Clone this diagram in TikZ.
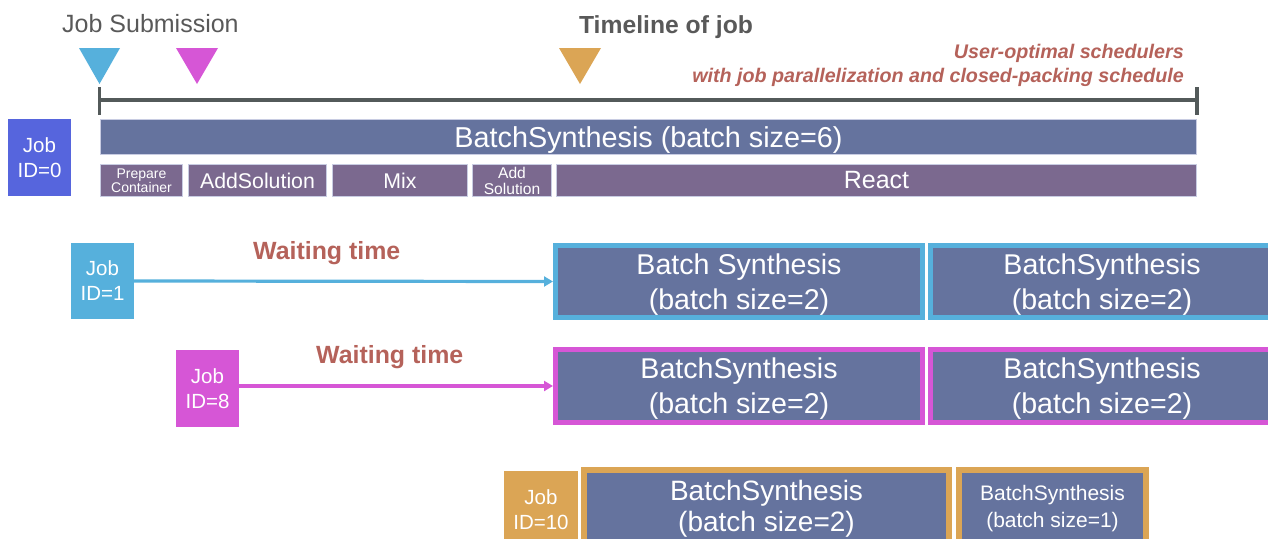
\documentclass[tikz,border=0pt]{standalone}
\usepackage{fontspec}
\setmainfont{Liberation Sans}
\usetikzlibrary{arrows.meta}

\definecolor{jobzero}{RGB}{86,101,221}
\definecolor{jobone}{RGB}{86,176,220}
\definecolor{jobeight}{RGB}{214,86,214}
\definecolor{jobten}{RGB}{219,165,85}
\definecolor{batchfill}{RGB}{101,115,158}
\definecolor{stepfill}{RGB}{123,105,143}
\definecolor{axisgray}{RGB}{83,90,90}
\definecolor{notered}{RGB}{181,98,90}
\definecolor{labelgray}{RGB}{89,89,89}
\definecolor{edgelight}{RGB}{200,204,226}

\newcommand\fsz[2]{\fontsize{#1}{#2}\selectfont}

\begin{document}
\begin{tikzpicture}[x=1pt,y=-1pt,
  jobbox/.style={fill=#1, text=white, inner sep=0pt, minimum width=63pt,
    minimum height=77pt, align=center, font=\fsz{20.5}{25}},
  phase/.style={fill=stepfill, draw=edgelight, line width=1pt, text=white,
    inner sep=0pt, minimum height=32pt, align=center},
  batch/.style={fill=batchfill, draw=#1, line width=5pt, text=white,
    inner sep=0pt, align=center, minimum height=72pt, text depth=0pt,
    font=\fsz{28.6}{35}},
  wait/.style={-{Triangle[length=9pt,width=10pt]}, line width=3.2pt, draw=#1},
  tri/.style={fill=#1, draw=none},
  waitlabel/.style={anchor=base west, text=notered, inner sep=0pt,
    font=\fsz{24.9}{30}\bfseries},
  notelabel/.style={anchor=base east, text=notered, inner sep=0pt,
    font=\fsz{19.7}{24}\bfseries\itshape}
]
\useasboundingbox (0,0) rectangle (1268,538);
\clip (0,0) rectangle (1268,538);

% headings
\node[anchor=base west, inner sep=0pt, text=labelgray, font=\fsz{25}{30}]
  (submit) at (62,32) {Job Submission};
\node[anchor=base, inner sep=0pt, text=labelgray, font=\fsz{24.7}{30}\bfseries]
  (title) at (666,33) {Timeline of job};
\node[notelabel] (note1) at (1184,58) {User-optimal schedulers};
\node[notelabel] (note2) at (1184,82) {with job parallelization and closed-packing schedule};

% submission markers
\fill[tri=jobone]   (79,48)  -- (120,48) -- (99.5,84) -- cycle;
\fill[tri=jobeight] (176,48) -- (218,48) -- (197,84)  -- cycle;
\fill[tri=jobten]   (559,48) -- (601,48) -- (580,84)  -- cycle;

% time axis
\coordinate (tlA) at (99.5,100);
\coordinate (tlB) at (1197,100);
\draw[axisgray, line width=4pt] (tlA) -- (tlB);
\draw[axisgray, line width=3.5pt] ([yshift=13pt]tlA) -- ([yshift=-15pt]tlA);
\draw[axisgray, line width=3.5pt] ([yshift=13pt]tlB) -- ([yshift=-15pt]tlB);

% job 0: one large batch split into its steps
\node[jobbox=jobzero] (job0) at (39.5,157.5) {Job\\ID=0};
\node[fill=batchfill, draw=edgelight, line width=1pt, text=white, inner sep=0pt,
  minimum width=1096pt, minimum height=35pt, text depth=0pt, font=\fsz{28.8}{32}]
  (bigbatch) at (648.5,137) {BatchSynthesis (batch size=6)};
\node[phase, minimum width=82pt, font=\fsz{14}{14}] (prep) at (141.5,180.5) {Prepare\\Container};
\node[phase, minimum width=138pt, font=\fsz{21.3}{24}] (addA) at (257.5,180.5) {AddSolution};
\node[phase, minimum width=135pt, font=\fsz{21.3}{24}] (mix) at (400,180.5) {Mix};
\node[phase, minimum width=79pt, font=\fsz{15.6}{16}] (addB) at (512,180.5) {Add\\Solution};
\node[phase, minimum width=640pt, font=\fsz{25}{28}] (react) at (876.5,180.5) {React};

% job 1
\node[jobbox=jobone, minimum height=76pt] (job1) at (102.5,281) {Job\\ID=1};
\node[batch=jobone, minimum width=367pt] (b1a) at (739,281.5) {Batch Synthesis\\(batch size=2)};
\node[batch=jobone, minimum width=343pt] (b1b) at (1102,281.5) {BatchSynthesis\\(batch size=2)};
\draw[wait=jobone] (job1.east) -- (b1a.west);
\node[waitlabel] (w1) at (253,259) {Waiting time};

% job 8
\node[jobbox=jobeight] (job8) at (207.5,388.5) {Job\\ID=8};
\node[batch=jobeight, minimum height=73pt, minimum width=367pt] (b8a) at (739,386) {BatchSynthesis\\(batch size=2)};
\node[batch=jobeight, minimum height=73pt, minimum width=343pt] (b8b) at (1102,386) {BatchSynthesis\\(batch size=2)};
\draw[wait=jobeight] (job8.east |- b8a.west) -- (b8a.west);
\node[waitlabel] (w8) at (316,363) {Waiting time};

% job 10
\node[jobbox=jobten, minimum width=74pt] (job10) at (541,509.5) {Job\\ID=10};
\node[batch=jobten, line width=6pt, minimum height=72pt, minimum width=365pt,
  font=\fsz{28}{31}] (b10a) at (766.5,506) {BatchSynthesis\\(batch size=2)};
\node[batch=jobten, line width=6pt, minimum height=72pt, minimum width=187pt,
  font=\fsz{21}{27}] (b10b) at (1052.5,506) {BatchSynthesis\\(batch size=1)};
\end{tikzpicture}
\end{document}
